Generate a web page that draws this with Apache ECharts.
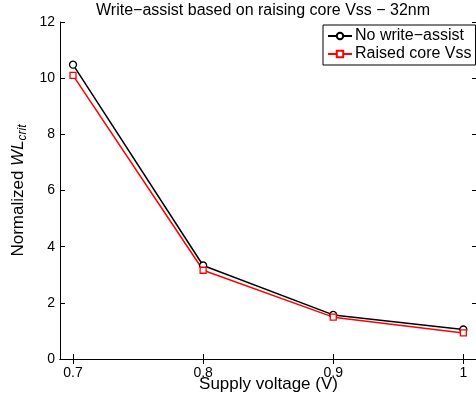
<!DOCTYPE html>
<html>
<head>
<meta charset="utf-8">
<script src="https://cdn.jsdelivr.net/npm/echarts@6/dist/echarts.min.js"></script>
<style>
  html, body { margin: 0; padding: 0; background: #fff; }
  #chart { width: 476px; height: 398px; }
</style>
</head>
<body>
<div id="chart"></div>
<script>
// Supply voltages (V) and normalized critical wordline pulse width
const voltages = [0.7, 0.8, 0.9, 1.0];
const noAssist = [10.48, 3.33, 1.57, 1.05];
const raisedVss = [10.1, 3.16, 1.49, 0.93];
const xTicks = [0.7, 0.8, 0.9, 1];
const yTicks = [0, 2, 4, 6, 8, 10, 12];

const FONT = 'Liberation Sans, Arial, Helvetica, sans-serif';

const chart = echarts.init(document.getElementById('chart'), null, { renderer: 'canvas' });

const pairs = (xs, ys) => xs.map((x, i) => [x, ys[i]]);

const frameLine = { show: true, lineStyle: { color: '#000', width: 1 } };
const innerTicks = (vals) => ({ show: true, inside: true, length: 5, customValues: vals, lineStyle: { color: '#000', width: 1 } });

const X_MIN = 0.69, X_MAX = 1.0105;

chart.setOption({
  animation: false,
  backgroundColor: '#fff',
  textStyle: { fontFamily: FONT },
  title: {
    text: 'Write\u2212assist based on raising core Vss \u2212 32nm',
    left: 96,
    top: 3,
    padding: 0,
    textStyle: { fontFamily: FONT, fontSize: 16, fontWeight: 'normal', color: '#000' }
  },
  legend: {
    left: 323,
    top: 25,
    orient: 'vertical',
    backgroundColor: '#fff',
    borderColor: '#000',
    borderWidth: 1,
    borderRadius: 0,
    padding: [3, 4, 3, 4],
    itemGap: 2,
    itemWidth: 24,
    itemHeight: 8,
    textStyle: { fontFamily: FONT, fontSize: 16, color: '#000', padding: [0, 0, 0, -2] },
    data: ['No write\u2212assist', 'Raised core Vss']
  },
  grid: { left: 60, right: -1, top: 22, bottom: 39, containLabel: false, outerBoundsMode: 'none' },
  xAxis: [
    {
      type: 'value', min: X_MIN, max: X_MAX, position: 'bottom',
      axisLine: frameLine,
      axisTick: innerTicks(xTicks),
      axisLabel: { customValues: xTicks, fontSize: 14, color: '#000', margin: 7, fontFamily: FONT,
                   formatter: v => String(+v.toFixed(1)) },
      splitLine: { show: false },
      name: 'Supply voltage (V)', nameLocation: 'middle', nameGap: 17, nameMoveOverlap: false,
      nameTextStyle: { fontSize: 17, color: '#000', fontFamily: FONT }
    },
    {
      type: 'value', min: X_MIN, max: X_MAX, position: 'top',
      axisLine: frameLine,
      axisTick: innerTicks(xTicks),
      axisLabel: { show: false },
      splitLine: { show: false }
    }
  ],
  yAxis: [
    {
      type: 'value', min: 0, max: 12, interval: 2, position: 'left',
      axisLine: frameLine,
      axisTick: innerTicks(yTicks),
      axisLabel: { customValues: yTicks, fontSize: 14, color: '#000', margin: 5, fontFamily: FONT },
      splitLine: { show: false },
      name: '{a|Normalized }{b|WL}{c|crit}',
      nameLocation: 'middle', nameRotate: 90, nameGap: 31, nameMoveOverlap: false,
      nameTextStyle: {
        fontFamily: FONT, color: '#000',
        rich: {
          a: { fontSize: 17, fontFamily: FONT, color: '#000', lineHeight: 22 },
          b: { fontSize: 17, fontFamily: FONT, fontStyle: 'italic', color: '#000', lineHeight: 22 },
          c: { fontSize: 12, fontFamily: FONT, fontStyle: 'italic', color: '#000', lineHeight: 22, verticalAlign: 'bottom', padding: [7, 0, 0, 0] }
        }
      }
    },
    {
      type: 'value', min: 0, max: 12, interval: 2, position: 'right',
      axisLine: frameLine,
      axisTick: innerTicks(yTicks),
      axisLabel: { show: false },
      splitLine: { show: false }
    }
  ],
  series: [
    {
      name: 'No write\u2212assist', type: 'line',
      data: pairs(voltages, noAssist),
      symbol: 'circle', symbolSize: 7, showAllSymbol: true,
      lineStyle: { color: '#000', width: 1.5 },
      itemStyle: { color: '#fff', borderColor: '#000', borderWidth: 1.3 },
      emphasis: { disabled: true }
    },
    {
      name: 'Raised core Vss', type: 'line',
      data: pairs(voltages, raisedVss),
      symbol: 'rect', symbolSize: 6, showAllSymbol: true,
      lineStyle: { color: '#ff0000', width: 1.5 },
      itemStyle: { color: '#fff', borderColor: '#ff0000', borderWidth: 1.3 },
      emphasis: { disabled: true }
    }
  ]
});
</script>
</body>
</html>
